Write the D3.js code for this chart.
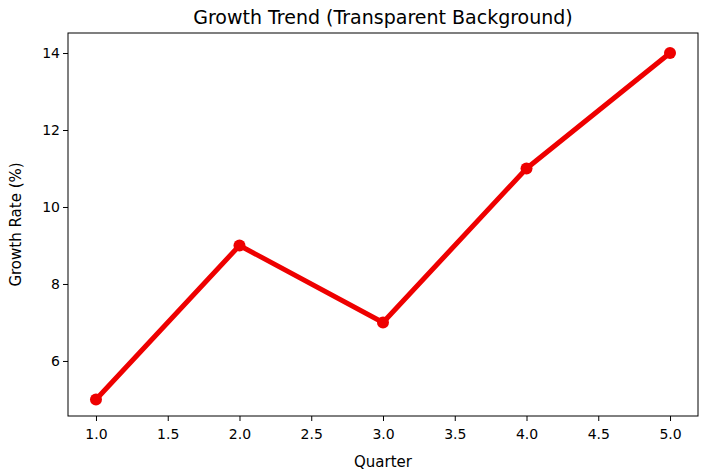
<!DOCTYPE html>
<html><head><meta charset="utf-8">
<script src="https://cdn.jsdelivr.net/npm/d3@7"></script>
<style>body{margin:0;background:#fff}text{font-family:"DejaVu Sans",sans-serif}</style>
</head><body>
<svg id="chart" width="713" height="472"></svg>
<script>
var quarters = [1, 2, 3, 4, 5];
var growth = [5, 9, 7, 11, 14];
var xTicks = [1.0, 1.5, 2.0, 2.5, 3.0, 3.5, 4.0, 4.5, 5.0];
var yTicks = [6, 8, 10, 12, 14];

var svg = d3.select('#chart');
var mLeft = 68, mRight = 698, mTop = 33, mBottom = 416;

var x = d3.scaleLinear().domain([0.805, 5.195]).range([mLeft, mRight]);
var y = d3.scaleLinear().domain([4.57, 14.52]).range([mBottom, mTop]);

var xa = svg.append('g').attr('transform', 'translate(0,' + mBottom + ')')
  .call(d3.axisBottom(x).tickValues(xTicks).tickFormat(d3.format('.1f')).tickSize(5).tickSizeOuter(0));
var ya = svg.append('g').attr('transform', 'translate(' + mLeft + ',0)')
  .call(d3.axisLeft(y).tickValues(yTicks).tickSize(5).tickSizeOuter(0));
[xa, ya].forEach(function(a){
  a.selectAll('text').attr('font-size', 14).attr('fill', '#000').style('font-family', 'DejaVu Sans');
  a.selectAll('line').attr('stroke', '#000');
  a.select('.domain').remove();
});
xa.selectAll('text').attr('dy', '1.1em');

svg.append('rect').attr('x', mLeft).attr('y', mTop).attr('width', mRight - mLeft).attr('height', mBottom - mTop)
  .attr('fill', 'none').attr('stroke', '#000').attr('stroke-width', 1);

var line = d3.line().x(function(d, i){ return x(quarters[i]); }).y(function(d){ return y(d); });
svg.append('path').datum(growth).attr('d', line).attr('fill', 'none')
  .attr('stroke', '#ee0000').attr('stroke-width', 5).attr('stroke-linejoin', 'round');
svg.selectAll('.pt').data(growth).enter().append('circle')
  .attr('cx', function(d, i){ return x(quarters[i]); }).attr('cy', function(d){ return y(d); })
  .attr('r', 6).attr('fill', '#ee0000');

svg.append('text').attr('x', (mLeft + mRight) / 2).attr('y', 24).attr('text-anchor', 'middle')
  .attr('font-size', 19).text('Growth Trend (Transparent Background)');
svg.append('text').attr('x', (mLeft + mRight) / 2).attr('y', 467).attr('text-anchor', 'middle')
  .attr('font-size', 15).text('Quarter');
svg.append('text').attr('transform', 'translate(21,' + (mTop + mBottom) / 2 + ') rotate(-90)')
  .attr('text-anchor', 'middle').attr('font-size', 15).text('Growth Rate (%)');
</script>
</body></html>
